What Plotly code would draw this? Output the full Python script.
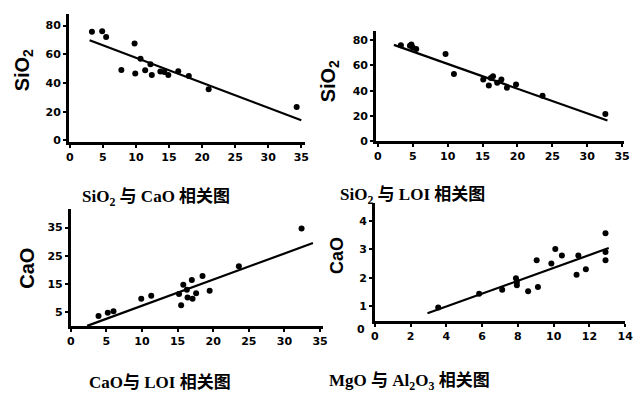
import plotly.graph_objects as go

# Panel 1: SiO2 vs CaO
p1_x = [3.35, 4.9, 5.5, 7.8, 9.8, 9.9, 10.7, 11.4, 12.2, 12.4, 13.7, 14.3, 14.9, 16.4, 18.0, 21.0, 34.3]
p1_y = [75.7, 76, 72, 49, 67.5, 46.6, 56.8, 48.9, 53, 45.5, 48, 47.7, 45.5, 48.2, 44.8, 35.7, 23.2]
p1_line_x = [3.0, 35.0]
p1_line_y = [69.8, 14.1]

# Panel 2: SiO2 vs LOI
p2_x = [3.3, 4.6, 5.0, 5.5, 4.8, 9.7, 10.9, 15.1, 15.9, 16.2, 16.5, 17.1, 17.7, 18.5, 19.8, 23.6, 32.6]
p2_y = [75.9, 75.4, 74, 72.8, 76.5, 68.9, 53.2, 48.8, 44.1, 50, 51.4, 46.2, 48.8, 42.3, 44.9, 36.1, 21.7]
p2_line_x = [2.3, 32.9]
p2_line_y = [76.1, 16.5]

# Panel 3: CaO vs LOI
p3_x = [3.9, 5.2, 6.0, 9.9, 11.3, 15.2, 15.8, 15.5, 16.3, 16.4, 17.1, 17.0, 17.6, 18.5, 19.5, 23.6, 32.4]
p3_y = [3.6, 4.8, 5.3, 9.7, 10.8, 11.4, 14.7, 7.4, 12.9, 10.2, 9.7, 16.4, 11.7, 17.8, 12.6, 21.3, 34.7]
p3_line_x = [2.3, 34.0]
p3_line_y = [0.1, 29.5]

# Panel 4: MgO vs Al2O3
p4_x = [3.54, 5.83, 7.12, 7.89, 7.94, 7.94, 8.57, 9.12, 9.05, 9.87, 10.09, 10.46, 11.28, 11.38, 11.8, 12.9, 12.9, 12.9]
p4_y = [0.96, 1.45, 1.59, 1.99, 1.86, 1.74, 1.53, 1.68, 2.62, 2.51, 3.02, 2.79, 2.11, 2.79, 2.31, 3.57, 2.91, 2.62]
p4_line_x = [2.94, 13.08]
p4_line_y = [0.76, 3.05]

titles = ["SiO<sub>2</sub> 与 CaO 相关图", "SiO<sub>2</sub> 与 LOI 相关图",
          "CaO与 LOI 相关图", "MgO 与 Al<sub>2</sub>O<sub>3</sub> 相关图"]
ylabels = ["SiO<sub>2</sub>", "SiO<sub>2</sub>", "CaO", "CaO"]

W, H = 642, 398
def px_x(p): return p / W
def px_y(p): return 1 - p / H

panels = [
    dict(x=p1_x, y=p1_y, lx=p1_line_x, ly=p1_line_y, box=(66, 307, 14, 145),
         xr=[-0.15, 35.6], yr=[-1.4, 88.2], xt=[0, 5, 10, 15, 20, 25, 30, 35], yt=[0, 20, 40, 60, 80]),
    dict(x=p2_x, y=p2_y, lx=p2_line_x, ly=p2_line_y, box=(379, 632, 32, 144),
         xr=[-0.28, 35.3], yr=[0, 86.7], xt=[0, 5, 10, 15, 20, 25, 30, 35], yt=[0, 20, 40, 60, 80]),
    dict(x=p3_x, y=p3_y, lx=p3_line_x, ly=p3_line_y, box=(68, 325, 213, 332),
         xr=[0, 35.4], yr=[0, 41.5], xt=[0, 5, 10, 15, 20, 25, 30, 35], yt=[5, 15, 25, 35]),
    dict(x=p4_x, y=p4_y, lx=p4_line_x, ly=p4_line_y, box=(378, 633, 207, 327),
         xr=[0, 14.0], yr=[0.48, 4.62], xt=[0, 2, 4, 6, 8, 10, 12, 14], yt=[1, 2, 3, 4]),
]

fig = go.Figure()
tickfont = dict(family="DejaVu Sans", size=11, color="black")
layout = {}
for i, p in enumerate(panels):
    n = "" if i == 0 else str(i + 1)
    fig.add_trace(go.Scatter(x=p["x"], y=p["y"], mode="markers",
                             marker=dict(color="black", size=6),
                             xaxis="x" + n, yaxis="y" + n, showlegend=False))
    fig.add_trace(go.Scatter(x=p["lx"], y=p["ly"], mode="lines",
                             line=dict(color="black", width=2.2),
                             xaxis="x" + n, yaxis="y" + n, showlegend=False))
    l, r, t, b = p["box"]
    layout["xaxis" + n] = dict(domain=[px_x(l), px_x(r)], range=p["xr"], anchor="y" + n,
                               tickvals=p["xt"], ticktext=["<b>%g</b>" % v for v in p["xt"]],
                               showgrid=False, zeroline=False,
                               showline=True, linecolor="black", linewidth=2.5,
                               ticks="outside", ticklen=3, tickwidth=2, tickcolor="black",
                               tickfont=tickfont)
    layout["yaxis" + n] = dict(domain=[px_y(b), px_y(t)], range=p["yr"], anchor="x" + n,
                               tickvals=p["yt"], ticktext=["<b>%g</b>" % v for v in p["yt"]],
                               showgrid=False, zeroline=False,
                               showline=True, linecolor="black", linewidth=2.5,
                               ticks="outside", ticklen=3, tickwidth=2, tickcolor="black",
                               tickfont=tickfont)

annotations = []
title_pos = [(155, 202), (416, 200), (159, 389), (413, 389)]
for txt, (tx, ty) in zip(titles, title_pos):
    annotations.append(dict(text="<b>" + txt + "</b>", x=px_x(tx), y=px_y(ty),
                            xref="paper", yref="paper",
                            showarrow=False, xanchor="center", yanchor="middle",
                            font=dict(family="Liberation Serif, Noto Sans CJK SC", size=17,
                                      color="black")))
ylab_pos = [(20, 72), (332, 83), (24, 273), (340, 260)]
ylab_size = [20, 20, 20, 18]
for txt, (tx, ty), sz in zip(ylabels, ylab_pos, ylab_size):
    annotations.append(dict(text="<b>" + txt + "</b>", x=px_x(tx), y=px_y(ty),
                            xref="paper", yref="paper",
                            showarrow=False, xanchor="center", yanchor="middle", textangle=-90,
                            font=dict(family="Liberation Sans, DejaVu Sans", size=sz,
                                      color="black")))
# origin "0" label of the MgO panel y axis
annotations.append(dict(text="<b>0</b>", x=px_x(364), y=px_y(335), xref="paper", yref="paper",
                        showarrow=False, xanchor="center", yanchor="middle", font=tickfont))

fig.update_layout(width=W, height=H, margin=dict(l=0, r=0, t=0, b=0),
                  plot_bgcolor="white", paper_bgcolor="white",
                  annotations=annotations, **layout)
fig.write_html("out.html")
